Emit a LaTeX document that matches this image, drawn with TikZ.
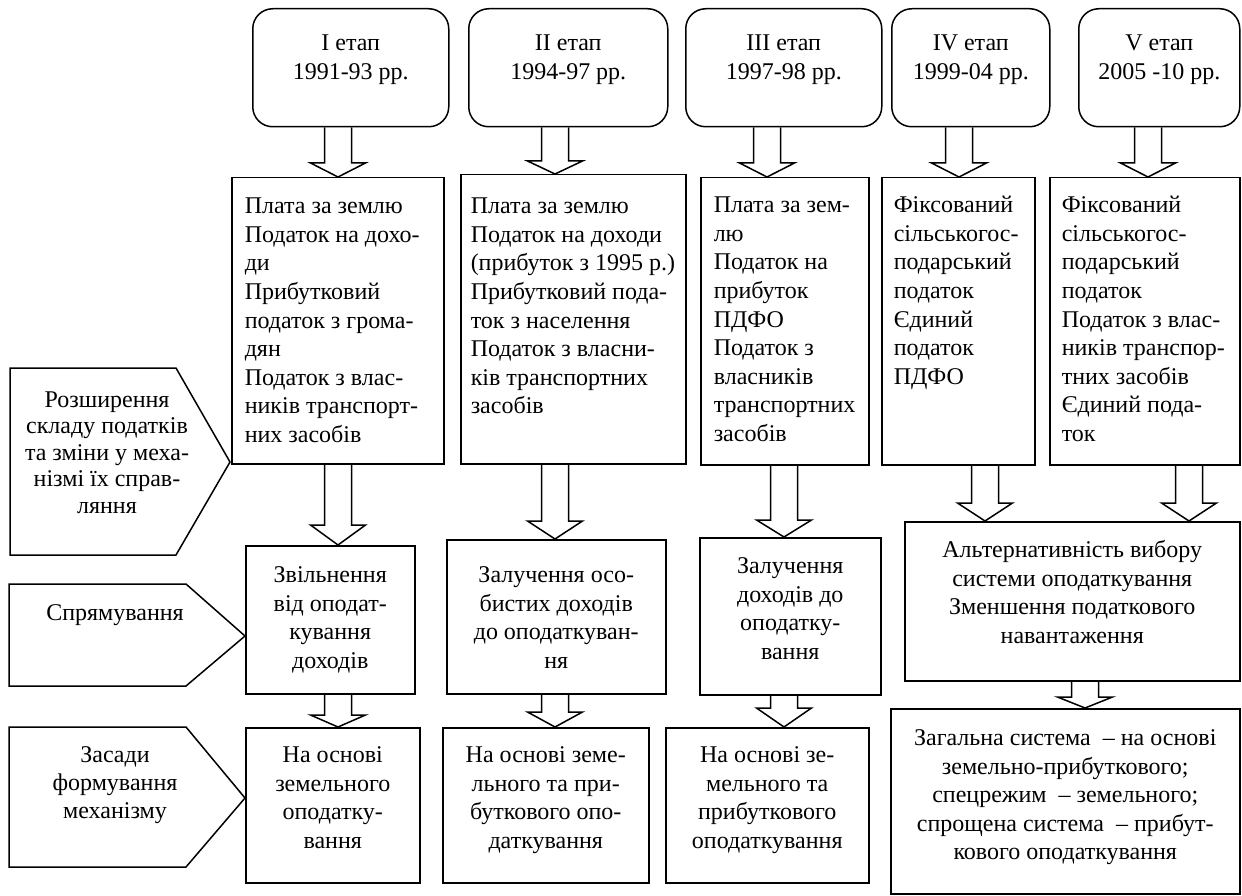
\documentclass[tikz,border=0pt]{standalone}
\usepackage{fontspec}
\setmainfont{Liberation Serif}
\usetikzlibrary{calc}
\tikzset{
  stagebox/.style={draw, line width=1.5pt, rounded corners=20pt, inner sep=0pt, anchor=north west},
  plainbox/.style={draw, line width=1.5pt, inner sep=0pt, anchor=north west},
  blk/.style={draw, line width=1.5pt, line join=miter},
  lblshape/.style={draw, line width=1.5pt, line join=miter},
  lbltext/.style={inner sep=0pt, anchor=north, align=center, font=\fontsize{24}{28}\selectfont},
}
% left-aligned cell: width, height, top gap, left pad, text
\newcommand{\cellL}[5]{\parbox[t][#2][t]{#1}{\fontsize{24}{28.6}\selectfont\raggedright\leftskip=#4\relax\rightskip=0pt plus 1fil\relax\hyphenpenalty=10000\vspace*{#3}\strut #5}}
% centred cell: width, height, top gap, text
\newcommand{\cellC}[4]{\parbox[t][#2][t]{#1}{\fontsize{24}{28.5}\selectfont\centering\hyphenpenalty=10000\vspace*{#3}\strut #4}}
% block arrow: x, from node, to node, head length
\newcommand{\barrow}[4]{%
  \path[blk] let \p1=(#2.south), \p2=(#3.north) in
    ({#1-13.5},\y1) -- ({#1-13.5},\y2+#4) -- ({#1-27.5},\y2+#4) -- (#1,\y2)
    -- ({#1+27.5},\y2+#4) -- ({#1+13.5},\y2+#4) -- ({#1+13.5},\y1);}
\begin{document}
\begin{tikzpicture}[x=1pt, y=-1pt]
\fill[white] (0,0) rectangle (1242,896);
\useasboundingbox (0,0) rectangle (1242,896);

% stage boxes
\node[stagebox] (s1) at (252,8)  {\cellC{196pt}{118pt}{22pt}{I етап\\1991-93 рр.}};
\node[stagebox] (s2) at (468,8)  {\cellC{199pt}{118pt}{22pt}{II етап\\1994-97 рр.}};
\node[stagebox] (s3) at (685,8)  {\cellC{196pt}{118pt}{22pt}{III етап\\1997-98 рр.}};
\node[stagebox] (s4) at (891,8)  {\cellC{158pt}{118pt}{22pt}{IV етап\\1999-04 рр.}};
\node[stagebox] (s5) at (1078,8) {\cellC{161pt}{118pt}{22pt}{V етап\\2005 -10 рр.}};

% tax boxes
\node[plainbox] (t1) at (231,177) {\cellL{212pt}{286pt}{16pt}{13pt}{Плата за землю\\Податок на дохо-\\ди\\Прибутковий\\податок з грома-\\дян\\Податок з влас-\\ників транспорт-\\них засобів}};
\node[plainbox] (t2) at (460,174) {\cellL{225pt}{289pt}{19pt}{10pt}{Плата за землю\\Податок на доходи\\(прибуток з 1995 р.)\\Прибутковий пода-\\ток з населення\\Податок з власни-\\ків транспортних\\засобів}};
\node[plainbox] (t3) at (700,177) {\cellL{168pt}{287pt}{15pt}{13pt}{Плата за зем-\\лю\\Податок на\\прибуток\\ПДФО\\Податок з\\власників\\транспортних\\засобів}};
\node[plainbox] (t4) at (881,177) {\cellL{153pt}{287pt}{15pt}{12pt}{Фіксований\\сільськогос-\\подарський\\податок\\Єдиний\\податок\\ПДФО}};
\node[plainbox] (t5) at (1049,177) {\cellL{190pt}{287pt}{15pt}{12pt}{Фіксований\\сільськогос-\\подарський\\податок\\Податок з влас-\\ників транспор-\\тних засобів\\Єдиний пода-\\ток}};

% row 2
\node[plainbox] (r1) at (245,545) {\cellC{169pt}{148pt}{17pt}{Звільнення\\від оподат-\\кування\\доходів}};
\node[plainbox] (r2) at (446,539) {\cellC{219pt}{154pt}{23pt}{Залучення осо-\\бистих доходів\\до оподаткуван-\\ня}};
\node[plainbox] (r3) at (699,537) {\cellC{181pt}{157pt}{16pt}{Залучення\\доходів до\\оподатку-\\вання}};
\node[plainbox] (big) at (904,521) {\cellC{335pt}{159pt}{16pt}{Альтернативність вибору\\системи оподаткування\\Зменшення податкового\\навантаження}};

% row 3
\node[plainbox] (q1) at (245,727) {\cellC{174pt}{155pt}{15pt}{На основі\\земельного\\оподатку-\\вання}};
\node[plainbox] (q2) at (442,727) {\cellC{206pt}{155pt}{15pt}{На основі земе-\\льного та при-\\буткового опо-\\даткування}};
\node[plainbox] (q3) at (665,727) {\cellC{203pt}{155pt}{15pt}{На основі зе-\\мельного та\\прибуткового\\оподаткування}};
\node[plainbox] (fin) at (890,708) {\cellC{349pt}{185pt}{17pt}{Загальна система \ – на основі\\земельно-прибуткового;\\спецрежим \ – земельного;\\спрощена система \ – прибут-\\кового оподаткування}};

% block arrows
\barrow{338}{s1}{t1}{14pt}
\barrow{555}{s2}{t2}{13pt}
\barrow{767}{s3}{t3}{14pt}
\barrow{959}{s4}{t4}{14pt}
\barrow{1148}{s5}{t5}{14pt}
\barrow{338}{t1}{r1}{20pt}
\barrow{555}{t2}{r2}{18pt}
\barrow{784}{t3}{r3}{17pt}
\barrow{985}{t4}{big}{18pt}
\barrow{1189}{t5}{big}{18pt}
\barrow{338}{r1}{q1}{12pt}
\barrow{555}{r2}{q2}{15pt}
\barrow{784}{r3}{q3}{19pt}
\barrow{1085}{big}{fin}{11pt}

% left labels
\draw[lblshape] (10,368) -- (176,368) -- (230,462) -- (176,555) -- (10,555) -- cycle;
\node[lbltext, font=\fontsize{24}{26.5}\selectfont] (l1) at (107,388.5) {\strut Розширення\\складу податків\\та зміни у меха-\\нізмі їх справ-\\ляння};
\draw[lblshape] (9,584) -- (186,584) -- (245,636) -- (186,686) -- (9,686) -- cycle;
\node[lbltext] (l2) at (115,600.4) {\strut Спрямування};
\draw[lblshape] (9,727) -- (186,727) -- (245,798) -- (186,867) -- (9,867) -- cycle;
\node[lbltext] (l3) at (115,742.4) {\strut Засади\\формування\\механізму};
\end{tikzpicture}
\end{document}
